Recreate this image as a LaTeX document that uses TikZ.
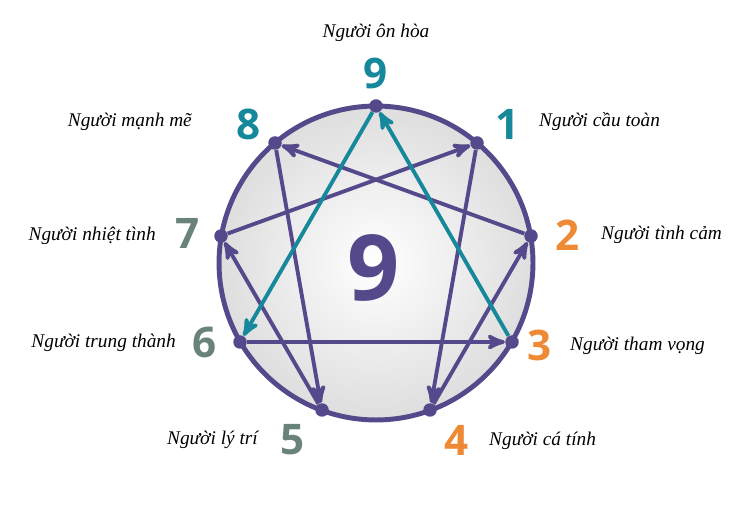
\documentclass[tikz,border=0pt]{standalone}
\usepackage{fontspec}
\setmainfont{Liberation Serif}
\newfontfamily\numfont{Open Sans}
\usetikzlibrary{positioning, arrows}
\definecolor{ennpurple}{HTML}{56498B}
\definecolor{ennteal}{HTML}{15899B}
\definecolor{ennorange}{HTML}{EE8A35}
\definecolor{enngray}{HTML}{6A8379}

\begin{document}
\begin{tikzpicture}[x=0.02cm,y=-0.02cm,->,>=stealth',
                    dot/.style={circle,fill=ennpurple,inner sep=0pt,minimum size=0.27cm},
                    num/.style={font=\numfont\fontsize{24}{24}\selectfont\bfseries},
                    type label/.style={font=\fontsize{11}{12}\selectfont\itshape}]

        \useasboundingbox (0,0) rectangle (750,516);
        \draw[-,ennpurple,line width=2.8pt,inner color=white,outer color=black!13]
            (376,263) circle[radius=3.14cm];

        % points on the circle
        \node[dot] (n9) at (376,106) {};
        \node[dot] (n1) at (477,143) {};
        \node[dot] (n2) at (531,236) {};
        \node[dot] (n3) at (512,342) {};
        \node[dot] (n4) at (430,410) {};
        \node[dot] (n5) at (322,410) {};
        \node[dot] (n6) at (240,342) {};
        \node[dot] (n7) at (221,236) {};
        \node[dot] (n8) at (275,143) {};

        \path[line width=2.2pt,every edge/.style={draw,ennpurple}]
            (n6) edge (n3)
            (n1) edge (n4)
            (n4) edge (n2)
            (n2) edge (n8)
            (n8) edge (n5)
            (n5) edge (n7)
            (n7) edge (n1)
            (n9) edge[ennteal] (n6)
            (n3) edge[ennteal] (n9);

        \node[font=\numfont\fontsize{52}{52}\selectfont\bfseries,text=ennpurple] (mid) at (374,268) {9};

        % numbers
        \node[num,text=ennteal] (t9) at (376,73) {9};
        \node[num,text=ennteal] (t1) at (508,124) {1};
        \node[num,text=ennorange] (t2) at (568,235) {2};
        \node[num,text=ennorange] (t3) at (540,345) {3};
        \node[num,text=ennorange] (t4) at (457,440) {4};
        \node[num,text=enngray] (t5) at (293,440) {5};
        \node[num,text=enngray] (t6) at (205,342) {6};
        \node[num,text=enngray] (t7) at (188,233) {7};
        \node[num,text=ennteal] (t8) at (249,124) {8};

        % names
        \node[type label] (l9) at (376,33) {Người ôn hòa};
        \node[type label,anchor=west] (l1) at (533,122) {Người cầu toàn};
        \node[type label,anchor=west] (l2) at (595,235) {Người tình cảm};
        \node[type label,anchor=west] (l3) at (564,346) {Người tham vọng};
        \node[type label,anchor=west] (l4) at (483,441) {Người cá tính};
        \node[type label,anchor=east] (l5) at (264,440) {Người lý trí};
        \node[type label,anchor=east] (l6) at (182,343) {Người trung thành};
        \node[type label,anchor=east] (l7) at (162,236) {Người nhiệt tình};
        \node[type label,anchor=east] (l8) at (198,122) {Người mạnh mẽ};
\end{tikzpicture}
\end{document}
